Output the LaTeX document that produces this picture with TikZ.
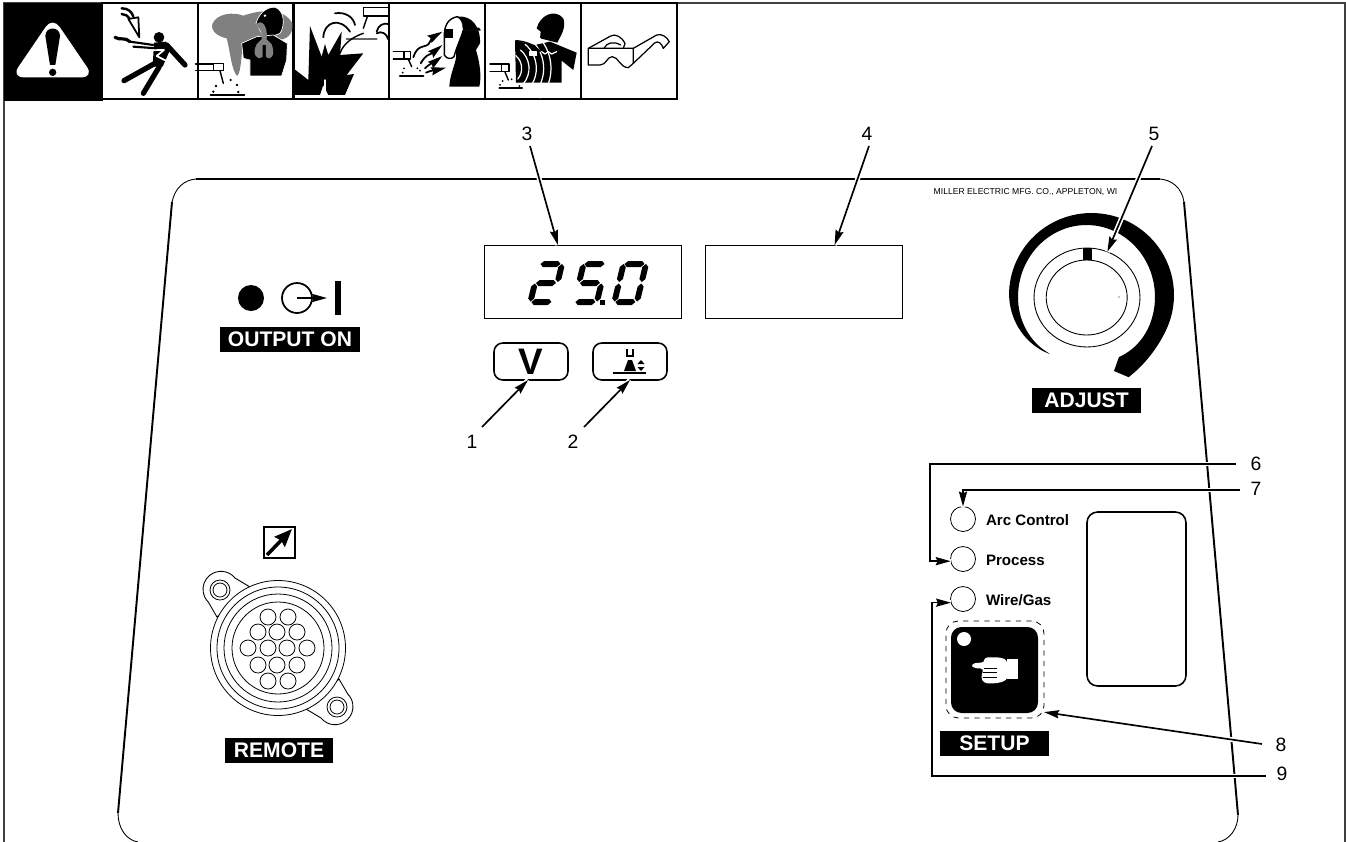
\documentclass[tikz,border=0pt]{standalone}
\usepackage{fontspec}
\setmainfont{Liberation Sans}
\usetikzlibrary{arrows.meta,calc,shapes.geometric}
\newcommand{\hseg}[2]{\fill (#1,#2) -- ++(3,-3) -- ++(14,0) -- ++(3,3) -- ++(-3,3) -- ++(-14,0) -- cycle;}
\newcommand{\vseg}[2]{\fill (#1,#2) -- ++(3,3) -- ++(0,12) -- ++(-3,3) -- ++(-3,-3) -- ++(0,-12) -- cycle;}
\newcommand{\segdigit}[3]{\begin{scope}[shift={(#1,#2)},xslant=.24]#3\end{scope}}
\begin{document}
\begin{tikzpicture}[
  x=.02cm,y=-.02cm,
  >={Stealth[length=8.5pt,width=4.6pt,inset=1pt]},
  every node/.style={inner sep=0pt,outer sep=0pt},
  num/.style={font=\fontsize{11}{12}\selectfont},
  tag/.style={fill=black,text=white,font=\fontsize{12}{13}\selectfont\bfseries,minimum width=2.18cm,minimum height=.5cm},
  ledname/.style={anchor=west,font=\fontsize{8.6}{10}\selectfont\bfseries},
  led/.style={circle,draw,line width=.45pt,minimum size=.5cm},
  disp/.style={draw,line width=.5pt,minimum width=3.94cm,minimum height=1.46cm},
  btn/.style={draw,line width=.9pt,rounded corners=5pt,minimum width=1.48cm,minimum height=.74cm},
  call/.style={->,line width=.95pt,preaction={draw=white,line width=2.8pt,-}},
  iconbox/.style={draw,line width=.9pt,minimum width=1.92cm,minimum height=1.92cm},
  zm/.style={x=.02cm/3,y=-.02cm/3},
  icon/.style={line width=.8pt,line cap=round,line join=round}
]
\useasboundingbox (0,0) rectangle (1346,842);
\draw[line width=.6pt,black!75] (4,842) -- (4,3) -- (1345,3) -- (1345,842);

\node[draw,fill=black,minimum width=1.96cm,minimum height=1.94cm] (warnbox) at (53,51.5) {};
\foreach \n/\cx in {shock/150,fumes/246,blast/341,rays/437,emf/533,specs/629} {
  \node[iconbox] (\n) at (\cx,51) {};
}
\begin{scope}[zm,icon]
  \fill[white,rounded corners=7pt] (158,50) -- (282,232) -- (34,232) -- cycle;
  \fill (136,108) .. controls (136,78) and (180,78) .. (180,108) -- (166,195) -- (150,195) -- cycle;
  \fill (158,217) circle (11);
  \fill (477,112) circle (16);
  \draw[line width=3pt] (372,242) -- (465,190);
  \draw[line width=3pt] (430,280) -- (478,200);
  \draw[line width=3pt] (500,135) -- (555,195);
  \fill (462,128) -- (498,125) -- (510,150) -- (488,200) -- (458,200) -- cycle;
  \draw[white,line width=1pt] (460,150) -- (492,150) -- (470,168) -- (498,182);
  \draw[line width=1.8pt] (345,112) .. controls (360,122) and (375,110) .. (390,125);
  \draw[line width=1.2pt] (390,125) -- (460,135);
  \draw[line width=1.2pt] (400,140) -- (470,145);
  \filldraw[fill=white,line width=1pt] (385,57) -- (415,52) -- (418,112) -- cycle;
  \draw[line width=1.4pt] (365,25) .. controls (385,25) and (395,35) .. (400,50);
  \draw[line width=1.4pt] (365,42) .. controls (375,42) and (385,48) .. (388,57);

  \fill[black!50] (637,72) .. controls (650,40) and (700,35) .. (730,47) .. controls (780,30) and (850,20) .. (877,70) .. controls (880,105) and (860,120) .. (830,120) -- (730,130) .. controls (722,170) and (725,210) .. (712,228) .. controls (695,215) and (690,150) .. (680,115) .. controls (655,110) and (632,95) .. (637,72) -- cycle;
  \filldraw[draw=white,line width=.4pt] (768,70) .. controls (780,30) and (810,20) .. (825,22) .. controls (855,30) and (855,80) .. (840,100) -- (820,108) -- (790,108) -- cycle;
  \filldraw[draw=white,line width=.4pt] (725,130) -- (770,110) -- (820,105) -- (862,130) -- (860,180) -- (845,228) -- (750,228) -- (750,180) -- (730,175) -- cycle;
  \fill[white] (795,47) circle (4);
  \fill[black!50] (765,80) .. controls (775,55) and (805,65) .. (800,118) -- (815,133) .. controls (828,165) and (812,185) .. (798,170) -- (798,135) -- (788,135) -- (788,170) .. controls (770,185) and (755,160) .. (770,133) -- (785,118) .. controls (788,95) and (780,80) .. (765,80) -- cycle;
  \filldraw[fill=white,line width=.8pt] (640,190) rectangle (670,212);
  \draw (587,192) -- (640,192);
  \draw (587,211) -- (640,211);
  \draw (660,212) -- (670,250);
  \foreach \sx/\sy in {692/240,711/255,648/258,640/275,715/276} {
    \fill (\sx,\sy) circle (4);
  }
  \draw[line width=1.1pt] (632,285) -- (733,285);

  \fill (882,285) -- (880,205) -- (925,240) -- (930,78) -- (965,170) -- (975,132) -- (985,165) -- (1025,95) -- (1020,165) -- (1090,160) -- (1040,225) -- (1062,222) -- (1035,285) -- (985,285) -- (970,255) -- (960,285) -- cycle;
  \draw[white,line width=.8pt] (975,240) -- (975,280);
  \draw[line width=1pt] (970,112) .. controls (972,65) and (1020,50) .. (1050,95);
  \draw[line width=1pt] (1005,40) .. controls (1035,35) and (1060,50) .. (1065,75);
  \draw[line width=1pt] (1130,95) .. controls (1135,75) and (1150,68) .. (1166,72);
  \draw[line width=1pt] (1130,100) .. controls (1145,92) and (1160,100) .. (1165,118);
  \draw (1090,22) rectangle (1166,48);
  \draw (1102,50) -- (1090,85);
  \draw[black!60,line width=1pt] (1040,117) -- (1130,117);
  \draw (1020,160) .. controls (1030,130) and (1060,110) .. (1090,100);
\end{scope}
\begin{scope}[shift={(380,0)},zm,icon]
  \draw (40,155) -- (72,155);
  \draw (40,177) -- (72,177);
  \draw (72,155) rectangle (92,177);
  \draw (85,178) -- (95,200);
  \foreach \sx/\sy in {112/205,72/205,120/212,68/218} {
    \fill (\sx,\sy) circle (3);
  }
  \draw[line width=1.2pt] (60,228) -- (130,228);
  \draw[line width=1pt,->] (100,172) .. controls (115,125) and (140,150) .. (150,125) .. controls (155,110) and (170,105) .. (187,95);
  \draw[line width=1pt,->] (122,190) .. controls (140,160) and (150,165) .. (187,135);
  \draw[line width=1pt,->] (135,205) .. controls (150,190) and (165,185) .. (187,168);
  \draw[line width=1pt,->] (138,218) .. controls (155,210) and (170,210) .. (198,203);
  \fill (232,50) .. controls (275,45) and (302,80) .. (300,130) -- (288,150) .. controls (300,190) and (305,230) .. (298,260) -- (208,260) .. controls (210,220) and (228,190) .. (228,170) -- cycle;
  \filldraw[fill=white,line width=.8pt] (232,50) .. controls (205,55) and (195,75) .. (193,100) -- (193,165) .. controls (200,178) and (215,178) .. (222,170) .. controls (230,140) and (245,110) .. (250,90) -- (300,90) -- (296,85) -- (250,85) .. controls (250,70) and (245,55) .. (232,50) -- cycle;
  \fill (192,88) rectangle (218,115);

  \fill (470,85) .. controls (480,45) and (525,25) .. (550,55) .. controls (560,85) and (540,110) .. (532,128) -- (480,115) -- (482,95) -- cycle;
  \fill (405,122) -- (465,135) -- (510,125) -- (590,158) -- (580,210) -- (545,182) -- (545,248) -- (408,248) -- cycle;
  \foreach \r in {50,72,94,116,138} {
    \draw[white,line width=.7pt] (375,205) ++(-50:\r) arc (-50:40:\r);
  }
  \draw (408,122) .. controls (440,125) and (465,135) .. (480,155);
  \filldraw[fill=white,draw=white] (450,155) rectangle (470,167);
  \draw[white,line width=.7pt] (485,155) -- (495,162) -- (505,155) -- (515,162) -- (530,155);
  \draw (330,192) -- (365,192);
  \draw (330,214) -- (365,214);
  \filldraw[fill=white] (365,192) rectangle (387,214);
  \draw (375,216) -- (385,240);
  \foreach \sx/\sy in {368/243,395/238,412/245,360/255,418/258} {
    \fill (\sx,\sy) circle (3);
  }
  \draw[line width=1.2pt] (358,265) -- (426,265);

  \draw[line width=.7pt] (625,145) -- (625,195) -- (660,195) .. controls (680,195) and (680,170) .. (697,170) .. controls (715,170) and (720,203) .. (745,203) -- (760,190) -- (760,145) -- cycle;
  \draw[line width=.7pt] (625,145) -- (692,108) .. controls (705,100) and (725,110) .. (735,130) -- (730,145);
  \draw[line width=.7pt] (672,145) .. controls (680,128) and (700,122) .. (722,135);
  \draw[line width=.7pt] (760,145) -- (830,105) .. controls (845,100) and (860,110) .. (868,125) -- (850,145) .. controls (845,130) and (835,122) .. (825,128) -- (760,190);
\end{scope}

\draw[line width=1.1pt] (196,179) -- (1160,179);
\draw[line width=1.1pt] (172,202) -- (118,813);
\draw[line width=1.1pt] (1184,202) -- (1238,815);
\draw[line width=.5pt] (172,202) .. controls (175,188) and (184,180) .. (196,179);
\draw[line width=.5pt] (1160,179) .. controls (1172,180) and (1182,188) .. (1184,202);
\draw[line width=.5pt] (118,813) .. controls (118,828) and (126,840) .. (138,842);
\draw[line width=.5pt] (1238,815) .. controls (1238,828) and (1230,840) .. (1218,842);

\node[font=\fontsize{4.9}{5}\selectfont] (maker) at (1025.5,192) {MILLER ELECTRIC MFG. CO., APPLETON, WI};

\fill (251,298) circle (13);
\node[circle,draw,line width=1pt,minimum size=.6cm] (outring) at (297,298) {};
\coordinate (outhub) at (297,298);
\coordinate (outtip) at (327,298);
\draw[->,line width=1pt] (outhub) -- (outtip);
\fill (335,281) rectangle (341,315);
\node[tag,minimum width=2.8cm] (outtag) at (290,339.5) {OUTPUT ON};

\node[disp] (dispvolt) at (582.5,281.5) {};
\node[disp] (dispwire) at (804,281.5) {};
\segdigit{540}{262}{\hseg{1}{2}\vseg{22.5}{2}\hseg{1}{21}\vseg{0}{21.5}\hseg{1}{40}}
\segdigit{584}{262}{\hseg{1}{2}\vseg{0}{2}\hseg{1}{21}\vseg{22.5}{21.5}\hseg{1}{40}}
\segdigit{624}{262}{\hseg{1}{2}\vseg{22.5}{2}\vseg{22.5}{21.5}\vseg{0}{2}\vseg{0}{21.5}\hseg{1}{40}}
\fill (600,300) rectangle (605,305);

\node[btn,font=\fontsize{21}{22}\selectfont\bfseries] (btnvolt) at (531,361.5) {V};
\node[btn] (btnwire) at (630,361.5) {};
\draw[line width=.6pt] (627,349) -- (627,356) -- (633,356) -- (633,349);
\fill (624,371) -- (628,360) -- (632,360) -- (636,371) -- cycle;
\draw[line width=.8pt] (613,373) -- (646,373);
\fill (637.5,364) -- (644.5,364) -- (641,360) -- cycle;
\fill (637.5,367) -- (644.5,367) -- (641,371) -- cycle;

\fill plot[smooth,domain=125:425.8,samples=50] ({1091.5+82.5*cos(\x)*(1-.12*max(0,1-(\x-125)/60)^2+.1*max(0,(\x-385)/41)^2)},{295+82*sin(\x)*(1-.12*max(0,1-(\x-125)/60)^2+.1*max(0,(\x-385)/41)^2)}) -- (1114,371) -- plot[smooth,domain=420.4:125,samples=50] ({1086.5+68.5*cos(\x)*(1-.045*max(0,1-(\x-125)/50)^2-.04*max(0,(\x-380)/40)^2)},{297+72*sin(\x)*(1-.045*max(0,1-(\x-125)/50)^2-.04*max(0,(\x-380)/40)^2)}) -- cycle;
\node[ellipse,draw,line width=.5pt,minimum width=2.12cm,minimum height=1.98cm] (knobring) at (1087,297.5) {};
\fill (1083,248) rectangle (1092,260);
\node[ellipse,draw,fill=white,line width=.5pt,minimum width=1.62cm,minimum height=1.5cm] (knobcap) at (1086.7,297.5) {};
\fill (1119,297) circle (.7);
\node[tag] (adjtag) at (1086.5,400.5) {ADJUST};

\node[draw,line width=1.2pt,minimum size=.62cm] (remicon) at (279.5,542.5) {};
\coordinate (remfoot) at (267,555);
\coordinate (remhead) at (292,529);
\draw[line width=2pt,-{Stealth[length=10pt,width=8pt,inset=1pt]}] (remfoot) -- (remhead);
\filldraw[fill=white,line width=.5pt] (250,587) -- (235,578) arc[start angle=-39,end angle=-225,radius=18] -- (217,617) -- cycle;
\filldraw[fill=white,line width=.5pt] (306,709) -- (321,718) arc[start angle=141,end angle=-45,radius=18] -- (339,679) -- cycle;
\foreach \cx/\cy in {220/590,337/707} {
  \draw[line width=.45pt] (\cx,\cy) circle (10);
  \draw[line width=.45pt] (\cx,\cy) circle (7);
}
\foreach \r in {67.5,61,54,46} {
  \filldraw[fill=white,line width=.45pt] (278,648) circle (\r);
}
\foreach \cx/\cy in {268/617,288/617,258/632,277/632,297/632,248/648,268/648,287/648,307/648,258/665,277/665,297/665,268/681,288/681} {
  \draw[line width=.45pt] (\cx,\cy) circle (8);
}
\node[tag,minimum width=2.16cm] (remtag) at (279,750) {REMOTE};

\node[led] (ledarc) at (963,519) {};
\node[led] (ledproc) at (963,559) {};
\node[led] (ledwire) at (963,599) {};
\node[ledname] (arctxt) at (986,520) {Arc Control};
\node[ledname] (proctxt) at (986,560) {Process};
\node[ledname] (wiretxt) at (986,600) {Wire/Gas};
\node[draw,line width=.9pt,rounded corners=6pt,minimum width=1.98cm,minimum height=3.48cm] (window) at (1136.5,599) {};
\node[draw,dashed,line width=.45pt,rounded corners=7pt,minimum width=1.96cm,minimum height=1.94cm] (setupbox) at (995,669.5) {};
\node[fill=black,rounded corners=6pt,minimum width=1.74cm,minimum height=1.72cm] (setupkey) at (994.5,670) {};
\fill[white] (964,639) circle (7);
\begin{scope}[shift={(910,450)},zm]
  \fill[white] (290,627) rectangle (325,688);
  \fill[white,rounded corners=2pt] (185,640) -- (225,637) -- (222,622) -- (270,622) -- (292,630) -- (292,690) -- (262,700) -- (222,700) -- (212,682) -- (222,656) -- (187,654) -- cycle;
  \draw[line width=.5pt] (222,656) -- (262,656);
  \draw[line width=.5pt] (218,668) -- (262,668);
  \draw[line width=.5pt] (218,682) -- (262,682);
\end{scope}
\node[tag] (setuptag) at (994.5,743.5) {SETUP};

\node[num] (n1) at (472,442) {1};
\node[num] (n2) at (573,442) {2};
\node[num] (n3) at (527,134) {3};
\node[num] (n4) at (867,134) {4};
\node[num] (n5) at (1154,134) {5};
\node[num] (n6) at (1256,464) {6};
\node[num] (n7) at (1256,489) {7};
\node[num] (n8) at (1281,745) {8};
\node[num] (n9) at (1282,774) {9};
\coordinate (cut6) at (930,464);
\coordinate (cut9) at (932,776);
\coordinate (tail1) at (482,427);
\coordinate (tail2) at (584,427);
\coordinate (tail3) at (530,146);
\coordinate (tail4) at (869,146);
\coordinate (tail5) at (1152,146);
\coordinate (tail6) at (1236,464);
\coordinate (tail7) at (1240,490);
\coordinate (tail8) at (1262,744);
\coordinate (tail9) at (1266,776);
\draw[call] (tail1) -- (btnvolt.261);
\draw[call] (tail2) -- (btnwire.south);
\draw[call] (tail3) -- (dispvolt.124);
\draw[call] (tail4) -- (dispwire.50);
\draw[call] (tail5) -- (knobring.66);
\draw[call] (tail6) -- (cut6) |- (ledproc.190);
\draw[call] (tail7) -| (ledarc.north);
\draw[call] (tail8) -- (setupbox.-41);
\draw[call] (tail9) -- (cut9) |- (ledwire.197);
\end{tikzpicture}
\end{document}
